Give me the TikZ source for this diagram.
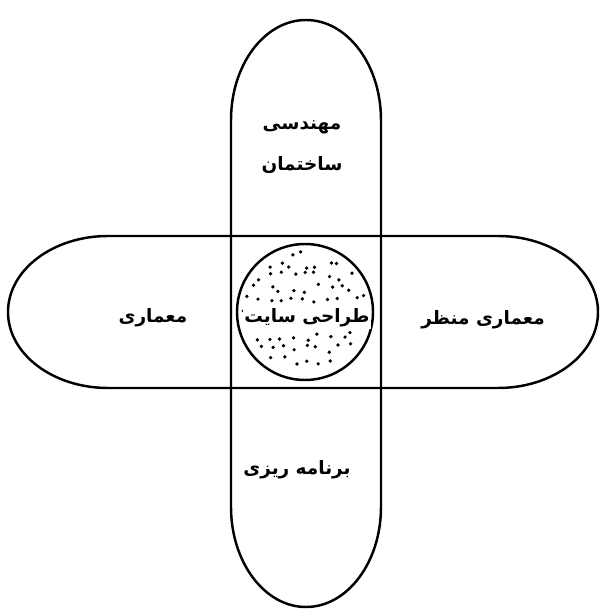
\documentclass[tikz,border=0pt]{standalone}
\usepackage{fontspec}
\newfontfamily\arabicfont[Script=Arabic]{DejaVu Sans}
\TeXXeTstate=1

\begin{document}
\begin{tikzpicture}[
    shape line/.style={line width=1.4pt},
    word/.style={font=\arabicfont\bfseries\fontsize{10.5}{13}\selectfont, inner sep=1pt}
]
\useasboundingbox (0,0) rectangle (12,12.18);

% Bandes
\draw[shape line] (4.62,2.04) -- (4.62,9.78) arc (180:0:1.5cm and 2cm)
    -- (7.62,2.04) arc (0:-180:1.5cm and 2cm) -- cycle;
\draw[shape line] (2.16,4.42) -- (9.96,4.42) arc (-90:90:2cm and 1.52cm)
    -- (2.16,7.46) arc (90:270:2cm and 1.52cm) -- cycle;

% Cercle central
\draw[shape line, fill=white] (6.1,5.94) circle (1.36);
\pgfmathsetseed{11}
\foreach \x in {-1.2,-0.96,...,1.25} {
    \foreach \y in {-1.2,-0.96,...,1.25} {
        \pgfmathsetmacro{\dx}{\x+0.09*rand}
        \pgfmathsetmacro{\dy}{\y+0.09*rand}
        \pgfmathparse{veclen(\dx,\dy)}
        \ifdim\pgfmathresult pt<1.24pt
            \fill (6.1+\dx,5.94+\dy) circle (0.037);
        \fi
    }
}

% Textes
\node[word] (muhandisi) at (6.04,9.64) {\beginR مهندسی\endR};
\node[word] (sakhteman) at (6.04,8.88) {\beginR ساختمان\endR};
\node[word] (memari) at (3.06,5.82) {\beginR معماری\endR};
\node[word, fill=white] (tarahi) at (6.14,5.82) {\beginR طراحی سایت\endR};
\node[word] (manzar) at (9.66,5.78) {\beginR معماری منظر\endR};
\node[word] (barname) at (5.94,2.78) {\beginR برنامه ریزی\endR};

\end{tikzpicture}
\end{document}
